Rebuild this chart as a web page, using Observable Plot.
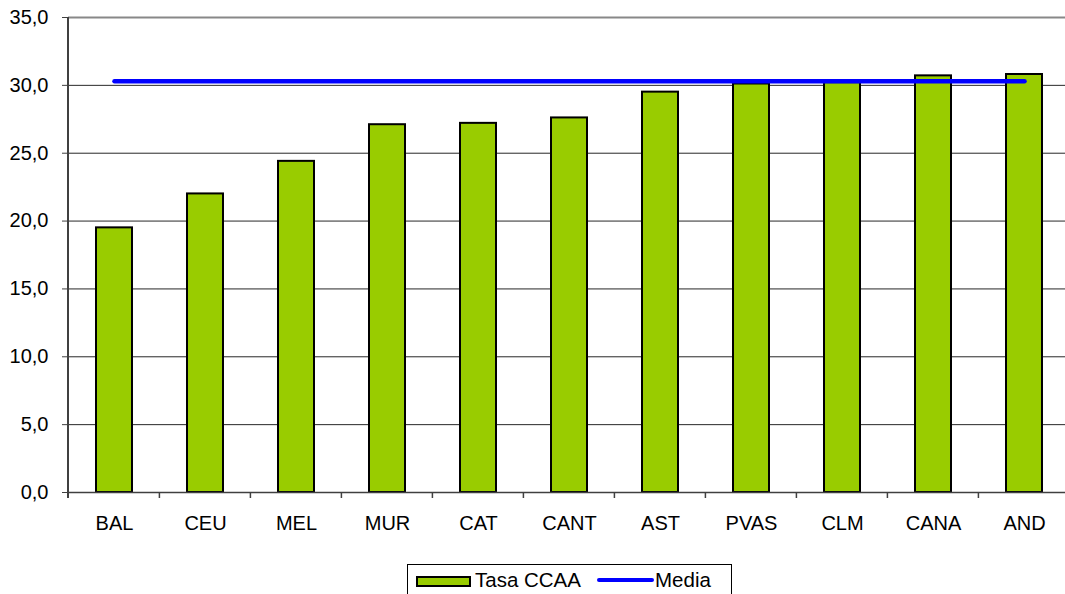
<!DOCTYPE html>
<html><head><meta charset="utf-8">
<script src="https://cdn.jsdelivr.net/npm/d3@7"></script>
<script src="https://cdn.jsdelivr.net/npm/@observablehq/plot@0.6"></script>
<style>
html,body{margin:0;padding:0;background:#fff;overflow:hidden;}
body{width:1065px;height:594px;font-family:"Liberation Sans",Arial,sans-serif;position:relative;}
#chart svg text{font-size:20px !important;font-family:"Liberation Sans",Arial,sans-serif !important;fill:#000;}
#legend{position:absolute;left:407px;top:564px;width:325px;height:36px;border:1px solid #000;box-sizing:border-box;font-size:20.5px;color:#000;}
#legend span{position:absolute;}
.sw{left:8px;top:11px;width:51px;height:7px;background:#99CC00;border:2px solid #000;}
.t1{left:67px;top:3px;}
.ln{left:189px;top:13px;width:57px;height:4px;background:#0000FF;border-radius:2px;}
.t2{left:247px;top:3px;}
</style></head><body>
<div id="chart"></div>
<div id="legend"><span class="sw"></span><span class="t1">Tasa CCAA</span><span class="ln"></span><span class="t2">Media</span></div>
<script>
const categories = ["BAL","CEU","MEL","MUR","CAT","CANT","AST","PVAS","CLM","CANA","AND"];
const tasa = [19.5, 22.0, 24.4, 27.1, 27.2, 27.6, 29.5, 30.1, 30.2, 30.7, 30.8];
const media = 30.3;
const yTicks = [0,5,10,15,20,25,30,35];

const data = categories.map((c,i)=>({cat:c, v:tasa[i]}));
const W = 1065, H = 548, ML = 68, MR = -6, MT = 17, MB = 56;
const fmt = d => d3.format(".1f")(d).replace(".", ",");

const boundaryTicks = (index, scales, values, dims) => {
  const g = d3.create("svg:g");
  const step = (dims.width - dims.marginLeft - dims.marginRight) / categories.length;
  const y0 = scales.y(0);
  for (let i = 1; i < categories.length; i++) {
    const xx = scales.x(categories[i]) + scales.x.bandwidth()/2 - step/2;
    g.append("line").attr("x1", xx).attr("x2", xx).attr("y1", y0).attr("y2", y0 + 6)
      .attr("stroke", "#404040").attr("stroke-width", 1.5);
  }
  return g.node();
};

const chart = Plot.plot({
  width: W, height: H,
  marginLeft: ML, marginRight: MR, marginTop: MT, marginBottom: MB,
  style: {fontFamily: "'Liberation Sans', Arial, sans-serif", fontSize: "20px", color: "#000", overflow: "visible"},
  x: {domain: categories, paddingInner: 0.6, paddingOuter: 0.3, label: null},
  y: {domain: [0, 35], ticks: yTicks, label: null},
  marks: [
    Plot.ruleY(yTicks.filter(t => t > 0 && t < 35), {stroke: "#000", strokeWidth: 1, strokeOpacity: 0.85}),
    Plot.ruleY([35], {stroke: "#888", strokeWidth: 2}),
    Plot.barY(data, {x: "cat", y: "v", fill: "#99CC00", stroke: "#000", strokeWidth: 2}),
    Plot.lineY(categories.map(c => ({cat: c, m: media})), {x: "cat", y: "m", stroke: "#0000FF", strokeWidth: 4.5, strokeLinecap: "round"}),
    Plot.ruleY([0], {stroke: "#404040", strokeWidth: 1.5}),
    Plot.axisY({ticks: yTicks, tickFormat: fmt, tickSize: 6, tickPadding: 14, stroke: "#404040"}),
    Plot.axisX({tickSize: 0, tickPadding: 23}),
    boundaryTicks,
    (index, scales, values, dims) => {
      const g = d3.create("svg:g");
      g.append("line").attr("x1", dims.marginLeft).attr("x2", dims.marginLeft)
        .attr("y1", scales.y(35)).attr("y2", scales.y(0) + 6)
        .attr("stroke", "#404040").attr("stroke-width", 2);
      return g.node();
    }
  ]
});
document.getElementById("chart").appendChild(chart);
</script>
</body></html>
